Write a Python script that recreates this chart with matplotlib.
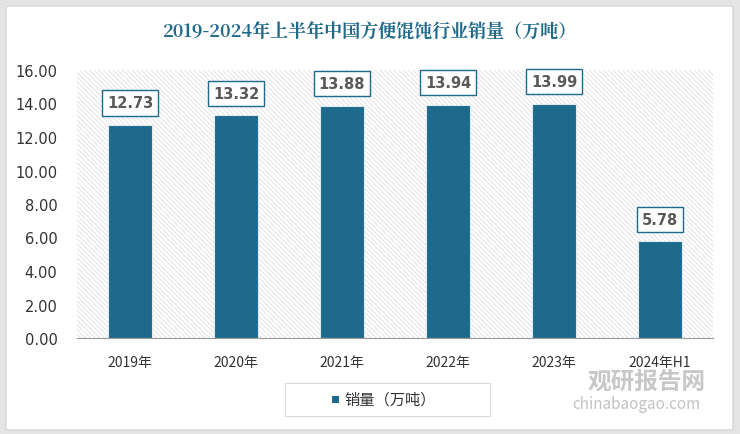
import matplotlib.pyplot as plt
from matplotlib.patches import FancyBboxPatch, Rectangle

plt.rcParams['font.family'] = ['Noto Sans CJK SC', 'DejaVu Sans']
plt.rcParams['hatch.linewidth'] = 0.5

categories = ['2019年', '2020年', '2021年', '2022年', '2023年', '2024年H1']
sales = [12.73, 13.32, 13.88, 13.94, 13.99, 5.78]

bar_color = '#1d6a8c'
W, H = 740, 435

fig = plt.figure(figsize=(W / 100, H / 100), dpi=100)
fig.patch.set_facecolor('#e4e4e4')
# white card
fig.patches.append(FancyBboxPatch((6 / W, 4 / H), 727 / W, 424 / H,
                                  boxstyle='round,pad=0,rounding_size=0.004',
                                  transform=fig.transFigure, facecolor='white',
                                  edgecolor='#d0d0d0', linewidth=0.8, zorder=-5))

ax = fig.add_axes([77 / W, 1 - 339 / H, 636 / W, 268 / H])
ax.set_zorder(2)
ax.set_facecolor('white')
# hatched plot area
ax.add_patch(Rectangle((0, 0), 1, 1, transform=ax.transAxes, facecolor='white',
                       edgecolor='#d9d9d9', hatch='\\' * 7, linewidth=0, zorder=0))

x = range(len(categories))
bars = ax.bar(x, sales, width=0.42, color=bar_color, edgecolor='#dfe9ee',
              linewidth=0.8, zorder=2)
for xi, v in zip(x, sales):
    ax.text(xi, v + 1.3, f'{v:.2f}', ha='center', va='center', fontsize=10.5,
            color='#595959', fontweight='bold', family='DejaVu Sans', zorder=3,
            bbox=dict(boxstyle='square,pad=0.35', facecolor='white',
                      edgecolor=bar_color, linewidth=1))

ax.set_xlim(-0.5, len(categories) - 0.5)
ax.set_ylim(0, 16)
ax.set_yticks(range(0, 17, 2))
ax.set_yticklabels([f'{t:.2f}' for t in range(0, 17, 2)], fontsize=10.5,
                   color='#333333', family='DejaVu Sans')
ax.set_xticks(list(x))
ax.set_xticklabels(categories, fontsize=10, color='#333333')
ax.tick_params(length=0, pad=12)
ax.tick_params(axis='y', pad=14)
for s in ['top', 'right', 'left']:
    ax.spines[s].set_visible(False)
ax.spines['bottom'].set_color('#999999')

fig.text(370 / W, 1 - 33 / H, '2019-2024年上半年中国方便馄饨行业销量（万吨）',
         ha='center', va='center', fontsize=13, fontweight='bold', color='#1f6a8a',
         family=['Noto Serif CJK SC', 'Noto Sans CJK SC', 'DejaVu Sans'])

# legend box
fig.patches.append(Rectangle((285 / W, 1 - 417 / H), 205 / W, 33 / H,
                             transform=fig.transFigure, facecolor='white',
                             edgecolor='#d9d9d9', linewidth=0.8))
fig.patches.append(Rectangle((332 / W, 1 - 404 / H), 7 / W, 7 / H,
                             transform=fig.transFigure, facecolor=bar_color,
                             edgecolor='none'))
fig.text(344 / W, 1 - 400 / H, '销量（万吨）', ha='left', va='center',
         fontsize=11, color='#333333')

# watermark
fig.text(588 / W, 1 - 382 / H, '观研报告网', ha='left', va='center', fontsize=17,
         fontweight='bold', color='#9a9a9a', alpha=0.55)
fig.text(572 / W, 1 - 405 / H, 'chinabaogao.com', ha='left', va='center',
         fontsize=11, color='#9a9a9a', alpha=0.6)

fig.savefig('out.png', dpi=100)
